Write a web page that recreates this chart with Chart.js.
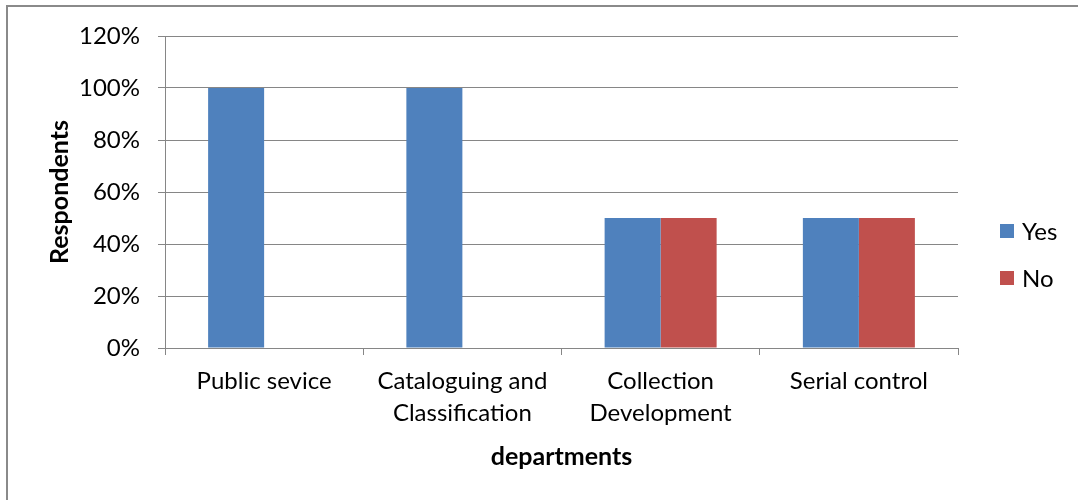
<!DOCTYPE html>
<html>
<head>
<meta charset="utf-8">
<script src="https://cdn.jsdelivr.net/npm/chart.js@4/dist/chart.umd.min.js"></script>
<style>
  body { margin: 0; background: #fff; }
  #wrap { position: relative; width: 1078px; height: 500px; overflow: hidden; }
  #frame { position: absolute; left: 6px; top: 5px; width: 1200px; height: 600px;
           border-left: 2px solid #8a8a8a; border-top: 2px solid #8a8a8a; }
  canvas { position: absolute; left: 0; top: 0; }
</style>
</head>
<body>
<div id="wrap">
  <div id="frame"></div>
  <canvas id="chart" width="1078" height="500"></canvas>
</div>
<script>
// chart data
const departments = ['Public sevice', ['Cataloguing and', 'Classification'], ['Collection', 'Development'], 'Serial control'];
const yesValues = [100, 100, 50, 50];
const noValues = [0, 0, 50, 50];
const yTicks = [0, 20, 40, 60, 80, 100, 120];

const FONT = 'Lato, "Liberation Sans", sans-serif';
const GRID = '#868686';

// legend drawn on the right, one row per dataset
const sideLegend = {
  id: 'sideLegend',
  afterDraw(chart) {
    const ctx = chart.ctx;
    ctx.save();
    ctx.font = '24px ' + FONT;
    ctx.textBaseline = 'middle';
    chart.data.datasets.forEach((ds, i) => {
      const y = 231 + i * 47;
      ctx.fillStyle = ds.backgroundColor;
      ctx.fillRect(1000, y - 7, 14, 14);
      ctx.fillStyle = '#000';
      ctx.fillText(ds.label, 1022, y + 1);
    });
    ctx.restore();
  }
};

new Chart(document.getElementById('chart'), {
  type: 'bar',
  data: {
    labels: departments,
    datasets: [
      { label: 'Yes', data: yesValues, backgroundColor: '#4F81BD' },
      { label: 'No', data: noValues, backgroundColor: '#C0504D' }
    ]
  },
  options: {
    responsive: false,
    animation: false,
    layout: { padding: { left: 45, right: 120, top: 36, bottom: 0 } },
    datasets: {
      bar: { categoryPercentage: 0.565, barPercentage: 1 }
    },
    plugins: {
      legend: { display: false },
      tooltip: { enabled: false }
    },
    scales: {
      x: {
        grid: { display: true, drawOnChartArea: false, offset: true, color: GRID, tickLength: 7 },
        border: { color: GRID, width: 1 },
        ticks: { color: '#000', font: { family: FONT, size: 24, lineHeight: 1.3 }, padding: 11, maxRotation: 0 },
        title: { display: true, text: 'departments', color: '#000',
                 font: { family: FONT, size: 25, weight: 'bold' }, padding: { top: 0, bottom: 28 } },
        afterFit(scale) { scale.height = 152; }
      },
      y: {
        min: 0,
        max: 120,
        afterBuildTicks(scale) { scale.ticks = yTicks.map(v => ({ value: v })); },
        grid: { color: GRID, tickLength: 7 },
        border: { color: GRID, width: 1 },
        ticks: { color: '#000', font: { family: FONT, size: 24 }, padding: 18,
                 callback: v => v + '%' },
        title: { display: true, text: 'Respondents', color: '#000',
                 font: { family: FONT, size: 25, weight: 'bold' }, padding: 0 },
        afterFit(scale) { scale.width = 165 - 45; }
      }
    }
  },
  plugins: [sideLegend]
});
</script>
</body>
</html>
